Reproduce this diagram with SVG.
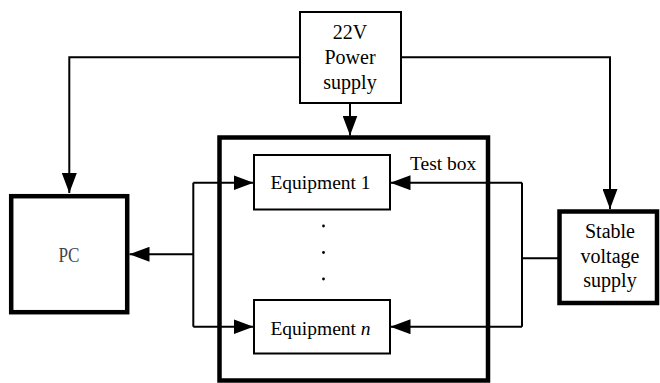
<svg xmlns="http://www.w3.org/2000/svg" width="660" height="383" viewBox="0 0 660 383" font-family="'Liberation Serif','Times New Roman',serif">
<defs>
<style>
.thin{fill:#fff;stroke:#000;stroke-width:2}
.thick{fill:#fff;stroke:#000;stroke-width:4.5}
text{font-family:"Liberation Serif","Times New Roman",serif}
.lbl{font-size:20px;fill:#000;text-anchor:middle}
.eq{font-size:19.5px}
.conn{fill:none;stroke:#000;stroke-width:2}
.arr{marker-end:url(#ah)}
</style>
<marker id="ah" markerUnits="userSpaceOnUse" markerWidth="20" markerHeight="15" refX="20" refY="7.5" orient="auto" viewBox="0 0 20 15">
<path d="M0,0 L20,7.5 L0,15 Z" fill="#000"/>
</marker>
</defs>
<rect width="660" height="383" fill="#fff"/>
<g id="testbox">
<rect class="thick" x="219.5" y="137.5" width="268.5" height="243"/>
<text x="410" y="170" font-family="Liberation Serif, serif" font-size="19.5" fill="#000">Test box</text>
</g>
<g id="connectors">
<path class="conn arr" d="M300,57.3 H69.3 V193"/>
<path class="conn arr" d="M401,57.3 H610 V209"/>
<path class="conn arr" d="M350,103 V135.5"/>
<path class="conn arr" d="M193.3,254.3 H129.5"/>
<path class="conn" d="M193.3,182.7 V326.7"/>
<path class="conn arr" d="M193.3,182.7 H253.5"/>
<path class="conn arr" d="M193.3,326.7 H253.5"/>
<path class="conn" d="M522,182.7 V326.7"/>
<path class="conn arr" d="M522,182.7 H390.5"/>
<path class="conn arr" d="M522,326.7 H390.5"/>
<path class="conn" d="M522,258.3 H558"/>
</g>
<g id="power">
<rect class="thin" x="300" y="12" width="101" height="91"/>
<text class="lbl" x="350" y="39">22V</text>
<text class="lbl" x="350" y="64">Power</text>
<text class="lbl" x="350" y="88.5">supply</text>
</g>
<g id="pc">
<rect class="thick" x="11.2" y="196.2" width="116" height="116"/>
<text x="69" y="261.5" font-family="Liberation Serif, serif" font-size="20" fill="#444" text-anchor="middle" textLength="21" lengthAdjust="spacingAndGlyphs">PC</text>
</g>
<g id="equipment1">
<rect class="thin" x="254" y="155" width="136" height="54.5"/>
<text class="lbl eq" x="320.5" y="189.3">Equipment 1</text>
</g>
<g id="dots">
<circle cx="323.5" cy="226" r="1.4" fill="#000"/>
<circle cx="323.5" cy="252.5" r="1.4" fill="#000"/>
<circle cx="323.5" cy="279" r="1.4" fill="#000"/>
</g>
<g id="equipmentn">
<rect class="thin" x="254" y="300" width="136" height="53.5"/>
<text class="lbl eq" x="320.5" y="335">Equipment <tspan font-style="italic">n</tspan></text>
</g>
<g id="stable">
<rect class="thick" x="559.5" y="211.5" width="97.5" height="91.5"/>
<text class="lbl" x="610" y="238.3">Stable</text>
<text class="lbl" x="610" y="263">voltage</text>
<text class="lbl" x="610" y="287">supply</text>
</g>
</svg>
